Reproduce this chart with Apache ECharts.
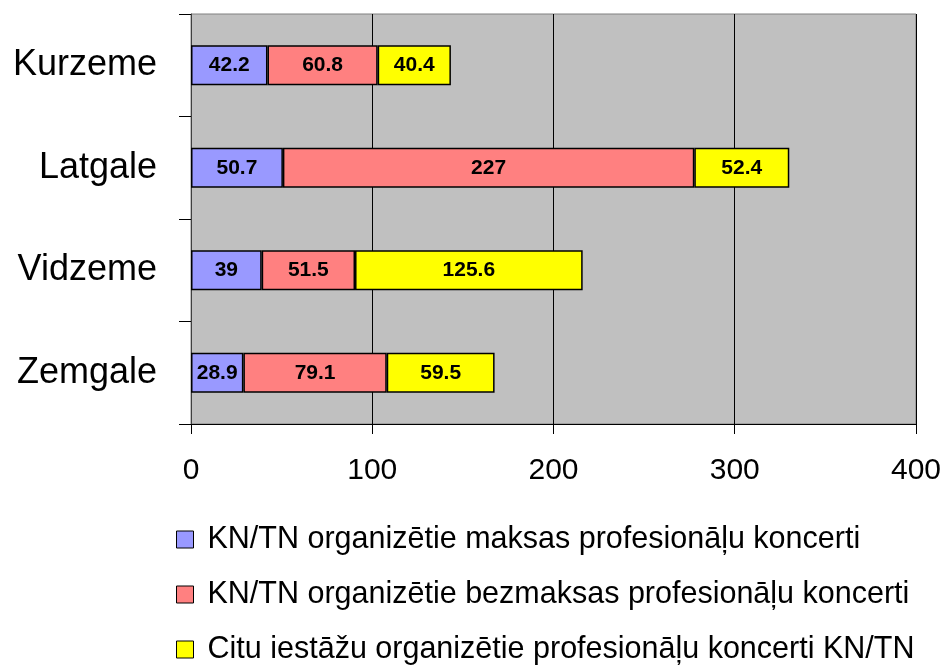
<!DOCTYPE html>
<html>
<head>
<meta charset="utf-8">
<script src="https://cdn.jsdelivr.net/npm/echarts@6/dist/echarts.min.js"></script>
<style>
  html, body { margin: 0; padding: 0; background: #fff; }
  #chart { width: 944px; height: 666px; }
</style>
</head>
<body>
<div id="chart"></div>
<script>
// regions, top to bottom
const regions = ["Kurzeme", "Latgale", "Vidzeme", "Zemgale"];
const seriesNames = [
  "KN/TN organizētie maksas profesionāļu koncerti",
  "KN/TN organizētie bezmaksas profesionāļu koncerti",
  "Citu iestāžu organizētie profesionāļu koncerti KN/TN"
];
const paidConcerts = [42.2, 50.7, 39, 28.9];
const freeConcerts = [60.8, 227, 51.5, 79.1];
const otherConcerts = [40.4, 52.4, 125.6, 59.5];
const xTicks = [0, 100, 200, 300, 400];

const colors = ["#9999FF", "#FF8080", "#FFFF00"];
const values = [paidConcerts, freeConcerts, otherConcerts];
const font = "'Liberation Sans', Arial, sans-serif";

const chart = echarts.init(document.getElementById("chart"));
chart.setOption({
  animation: false,
  textStyle: { fontFamily: font },
  grid: {
    left: 191,
    right: 28,
    top: 14,
    bottom: 242,
    show: true,
    backgroundColor: "#C0C0C0",
    borderColor: "#808080",
    borderWidth: 1
  },
  legend: {
    orient: "vertical",
    left: 176,
    top: 524,
    padding: 0,
    itemWidth: 17,
    itemHeight: 17,
    itemGap: 24,
    icon: "rect",
    data: seriesNames,
    itemStyle: { borderColor: "#000", borderWidth: 1 },
    textStyle: {
      fontSize: 30.5,
      color: "#000",
      lineHeight: 30,
      fontFamily: font,
      padding: [0, 0, 0, 9]
    }
  },
  xAxis: {
    type: "value",
    min: xTicks[0],
    max: xTicks[xTicks.length - 1],
    interval: 100,
    axisLine: { show: true, lineStyle: { color: "#000", width: 1 } },
    axisTick: { show: true, length: 10, lineStyle: { color: "#000" } },
    splitLine: { show: true, lineStyle: { color: "#000", width: 1 } },
    axisLabel: { fontSize: 30, color: "#000", margin: 32 }
  },
  yAxis: {
    type: "category",
    inverse: true,
    data: regions,
    axisLine: { show: true, lineStyle: { color: "#404040", width: 1 } },
    axisTick: { show: true, length: 12, lineStyle: { color: "#000" } },
    axisLabel: { fontSize: 36, color: "#000", margin: 34 }
  },
  series: seriesNames.map((name, i) => ({
    name: name,
    type: "bar",
    stack: "total",
    data: values[i],
    barWidth: 40,
    itemStyle: { color: colors[i], borderColor: "#000", borderWidth: 1.5 },
    label: {
      show: true,
      position: "inside",
      color: "#000",
      fontWeight: "bold",
      fontSize: 21,
      fontFamily: font
    }
  }))
});
</script>
</body>
</html>
